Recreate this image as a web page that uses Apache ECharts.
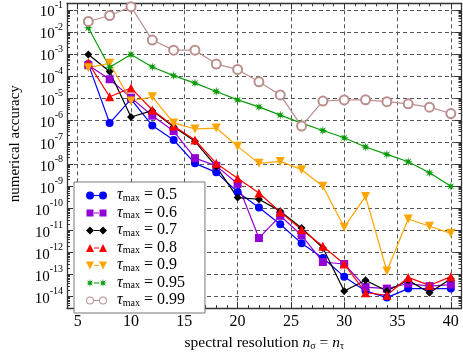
<!DOCTYPE html>
<html>
<head>
<meta charset="utf-8">
<script src="https://cdn.jsdelivr.net/npm/echarts@6/dist/echarts.min.js"></script>
<style>
  html, body { margin: 0; padding: 0; background: #fff; }
  #main { width: 463px; height: 356px; }
</style>
</head>
<body>
<div id="main"></div>
<script type="text/javascript">
// resolution n = n_sigma = n_tau
var nValues = [6, 8, 10, 12, 14, 16, 18, 20, 22, 24, 26, 28, 30, 32, 34, 36, 38, 40];

// error for each tau_max
var tau050 = [3.5e-4, 7.4e-7, 9e-6, 5.7e-7, 1.26e-7, 1.1e-8, 4.3e-9, 5.5e-10, 1.1e-10, 1.9e-11, 2.6e-12, 5.6e-13, 8e-14, 1.8e-14, 9e-15, 2.3e-14, 2.3e-14, 2.3e-14];
var tau060 = [3.1e-4, 7.2e-5, 1.05e-5, 1.6e-6, 3.2e-7, 1.9e-8, 8.5e-9, 1.3e-9, 4.5e-12, 4.6e-11, 6e-12, 3.7e-13, 3e-13, 2.7e-14, 2.3e-14, 3.9e-14, 3e-14, 3.5e-14];
var tau070 = [9.5e-4, 1.6e-4, 1.4e-6, 2.7e-6, 5e-7, 1.1e-7, 7.8e-9, 3.1e-10, 2.6e-10, 7.5e-11, 1.3e-11, 1.6e-12, 1.8e-14, 5.5e-14, 1.8e-14, 5.5e-14, 1.5e-14, 6.5e-14];
var tau080 = [4e-4, 1.15e-5, 2.9e-5, 2.9e-6, 5.4e-7, 1.26e-7, 1.1e-8, 2.3e-9, 5e-10, 6.8e-11, 1.1e-11, 1.9e-12, 3e-13, 1.5e-14, 1.15e-14, 7.4e-14, 3.2e-14, 8e-14];
var tau090 = [2.4e-4, 3.8e-4, 7.4e-6, 1.15e-5, 7.5e-7, 4e-7, 4.4e-7, 6.5e-8, 1.1e-8, 1.35e-8, 5.7e-9, 1e-9, 1.4e-11, 3.5e-10, 1.45e-13, 3.3e-11, 1.55e-11, 7.4e-12];
var tau095 = [1.55e-2, 2.5e-4, 9.5e-4, 2.6e-4, 1.05e-4, 4.8e-5, 2e-5, 8.3e-6, 4e-6, 1.7e-6, 7.4e-7, 3.4e-7, 1.6e-7, 6.1e-8, 2.8e-8, 1.3e-8, 4.1e-9, 1.0e-9];
var tau099 = [3e-2, 5.6e-2, 0.14, 4.3e-3, 1.5e-3, 1.5e-3, 3.5e-4, 2e-4, 5.5e-5, 1.4e-5, 5.4e-7, 7.4e-6, 8.3e-6, 8.4e-6, 6.9e-6, 5.5e-6, 3.9e-6, 2e-6];

var tauNames = ['0.5', '0.6', '0.7', '0.8', '0.9', '0.95', '0.99'];

// decade ticks on the y axis
var yTicks = [1e-14, 1e-13, 1e-12, 1e-11, 1e-10, 1e-9, 1e-8, 1e-7, 1e-6, 1e-5, 1e-4, 1e-3, 1e-2, 1e-1];
var yMin = 3e-15, yMax = 0.2;

// minor log ticks 2..9 x 10^k inside the range
var yMinorTicks = [];
for (var p = -15; p <= -1; p++) {
    for (var m = 2; m <= 9; m++) {
        var v = m * Math.pow(10, p);
        if (v > yMin && v < yMax) yMinorTicks.push(v);
    }
}

var serif = 'Liberation Serif';

// 8-armed star (asterisk) around cx,cy
function starShape(cx, cy, r) {
    var pts = [];
    for (var k = 0; k < 16; k++) {
        var rr = (k % 2 === 0) ? r : r * 0.4;
        var a = Math.PI * k / 8 - Math.PI / 2;
        pts.push((cx + rr * Math.cos(a)).toFixed(2) + ' ' + (cy + rr * Math.sin(a)).toFixed(2));
    }
    return 'M' + pts.join(' L') + ' Z';
}

// legend icon shapes: marker at both ends of a short line (box 21 x 8)
var shapes = {
    circle: function (c) { return 'M' + (c - 4) + ' 4 A4 4 0 1 1 ' + (c + 4) + ' 4 A4 4 0 1 1 ' + (c - 4) + ' 4 Z'; },
    ring: function (c) {
        return 'M' + (c - 4) + ' 4 A4 4 0 1 1 ' + (c + 4) + ' 4 A4 4 0 1 1 ' + (c - 4) + ' 4 Z ' +
               'M' + (c - 3) + ' 4 A3 3 0 1 0 ' + (c + 3) + ' 4 A3 3 0 1 0 ' + (c - 3) + ' 4 Z';
    },
    rect: function (c) { return 'M' + (c - 3.5) + ' 0.5 H' + (c + 3.5) + ' V7.5 H' + (c - 3.5) + ' Z'; },
    diamond: function (c) { return 'M' + c + ' 0 L' + (c + 4) + ' 4 L' + c + ' 8 L' + (c - 4) + ' 4 Z'; },
    up: function (c) { return 'M' + c + ' 0 L' + (c + 4) + ' 8 L' + (c - 4) + ' 8 Z'; },
    down: function (c) { return 'M' + c + ' 8 L' + (c + 4) + ' 0 L' + (c - 4) + ' 0 Z'; },
    star: function (c) { return starShape(c, 4, 4); }
};
function legendIcon(kind) {
    var f = shapes[kind];
    return 'path://M0 0 M21 8 ' + f(4) + ' ' + f(17) + ' M8 3.4 H13 V4.6 H8 Z';
}

function pairs(arr) {
    return nValues.map(function (n, i) { return [n, arr[i]]; });
}

function makeSeries(name, arr, color, symbol, size, extra) {
    var s = {
        name: name,
        type: 'line',
        data: pairs(arr),
        symbol: symbol,
        symbolSize: size,
        showAllSymbol: true,
        lineStyle: { color: color, width: 1.2 },
        itemStyle: { color: color },
        animation: false
    };
    for (var k in extra) s[k] = extra[k];
    return s;
}

var myChart = echarts.init(document.getElementById('main'));

var gridLine = { show: true, lineStyle: { color: '#555', type: [4, 3], width: 1 } };
var frameLine = { show: true, onZero: false, lineStyle: { color: '#333', width: 1.3 } };
var tickStyle = { color: '#333', width: 1 };

var option = {
    backgroundColor: '#fff',
    grid: { left: 60, right: 1.5, top: 3.3, bottom: 39.3 },
    legend: {
        orient: 'vertical',
        left: 74,
        bottom: 43,
        width: 130,
        padding: [5, 20, 5, 12],
        itemGap: 1.5,
        itemWidth: 21,
        itemHeight: 8,
        backgroundColor: '#fff',
        borderColor: '#777',
        borderWidth: 1,
        data: [
            { name: '0.5', icon: legendIcon('circle') },
            { name: '0.6', icon: legendIcon('rect') },
            { name: '0.7', icon: legendIcon('diamond') },
            { name: '0.8', icon: legendIcon('up') },
            { name: '0.9', icon: legendIcon('down') },
            { name: '0.95', icon: legendIcon('star') },
            { name: '0.99', icon: legendIcon('ring') }
        ],
        formatter: function (name) {
            return '{t|\u03c4}{s|max}{e| = ' + name + '}';
        },
        textStyle: {
            fontFamily: serif,
            color: '#000',
            rich: {
                t: { fontFamily: serif, fontStyle: 'italic', fontSize: 16, color: '#000', verticalAlign: 'bottom', lineHeight: 15, padding: [0, 0, 0, 5] },
                s: { fontFamily: serif, fontSize: 10, color: '#000', verticalAlign: 'bottom', lineHeight: 11 },
                e: { fontFamily: serif, fontSize: 16, color: '#000', verticalAlign: 'bottom', lineHeight: 15 }
            }
        }
    },
    xAxis: [{
        type: 'value',
        min: 4,
        max: 41,
        splitNumber: 7,
        name: '{a|spectral resolution }{i|n}{b|\u03c3}{a| = }{i|n}{b|\u03c4}',
        nameLocation: 'middle',
        nameGap: 24,
        nameTextStyle: {
            rich: {
                a: { fontFamily: serif, fontSize: 15.5, color: '#000', verticalAlign: 'bottom', lineHeight: 16 },
                i: { fontFamily: serif, fontStyle: 'italic', fontSize: 15.5, color: '#000', verticalAlign: 'bottom', lineHeight: 16 },
                b: { fontFamily: serif, fontSize: 10, color: '#000', verticalAlign: 'bottom', lineHeight: 10 }
            }
        },
        axisLine: frameLine,
        axisTick: { show: true, inside: true, length: 6, lineStyle: tickStyle },
        minorTick: { show: true, splitNumber: 5, length: 3, lineStyle: tickStyle },
        axisLabel: {
            showMinLabel: false, showMaxLabel: false,
            fontFamily: serif, fontSize: 16, color: '#000', margin: 6
        },
        splitLine: gridLine
    }, {
        type: 'value',
        position: 'top',
        min: 4,
        max: 41,
        splitNumber: 7,
        axisLine: frameLine,
        axisTick: { show: true, inside: true, length: 6, lineStyle: tickStyle },
        minorTick: { show: true, splitNumber: 5, length: 3, lineStyle: tickStyle },
        axisLabel: { show: false },
        splitLine: { show: false }
    }],
    yAxis: [{
        type: 'log',
        logBase: 10,
        min: yMin,
        max: yMax,
        name: 'numerical accuracy',
        nameLocation: 'middle',
        nameGap: 44,
        nameTextStyle: { fontFamily: serif, fontSize: 15, color: '#000', padding: [0, 0, 0, 24] },
        axisLine: frameLine,
        axisTick: { show: true, inside: true, length: 6, customValues: yTicks, lineStyle: tickStyle },
        axisLabel: {
            customValues: yTicks,
            margin: 4,
            formatter: function (v) {
                var e = Math.round(Math.log(v) / Math.LN10);
                return '{b|10}{s|' + e + '}';
            },
            rich: {
                b: { fontFamily: serif, fontSize: 15, color: '#000', verticalAlign: 'bottom', lineHeight: 20 },
                s: { fontFamily: serif, fontSize: 10, color: '#000', verticalAlign: 'top', lineHeight: 20 }
            }
        },
        splitLine: gridLine
    }, {
        type: 'log',
        logBase: 10,
        position: 'right',
        min: yMin,
        max: yMax,
        axisLine: frameLine,
        axisTick: { show: true, inside: true, length: 6, customValues: yTicks, lineStyle: tickStyle },
        axisLabel: { show: false },
        splitLine: { show: false }
    }, {
        type: 'log',
        logBase: 10,
        position: 'left',
        min: yMin,
        max: yMax,
        axisLine: { show: false, onZero: false },
        axisTick: { show: true, inside: true, length: 3, customValues: yMinorTicks, lineStyle: tickStyle },
        axisLabel: { show: false },
        splitLine: { show: false }
    }, {
        type: 'log',
        logBase: 10,
        position: 'right',
        min: yMin,
        max: yMax,
        axisLine: { show: false, onZero: false },
        axisTick: { show: true, inside: true, length: 3, customValues: yMinorTicks, lineStyle: tickStyle },
        axisLabel: { show: false },
        splitLine: { show: false }
    }],
    series: [
        makeSeries('0.5', tau050, '#0000ff', 'circle', 8),
        makeSeries('0.6', tau060, '#9400d3', 'rect', 8),
        makeSeries('0.7', tau070, '#000000', 'diamond', 8),
        makeSeries('0.8', tau080, '#ff0000', 'triangle', 9),
        makeSeries('0.9', tau090, '#ffa500', 'triangle', 9, { symbolRotate: 180 }),
        makeSeries('0.95', tau095, '#0a9a0a', 'path://' + starShape(10, 10, 10), 9),
        makeSeries('0.99', tau099, '#bc8f8f', 'emptyCircle', 9, { itemStyle: { color: '#bc8f8f', borderWidth: 1 } })
    ]
};

myChart.setOption(option);
</script>
</body>
</html>
